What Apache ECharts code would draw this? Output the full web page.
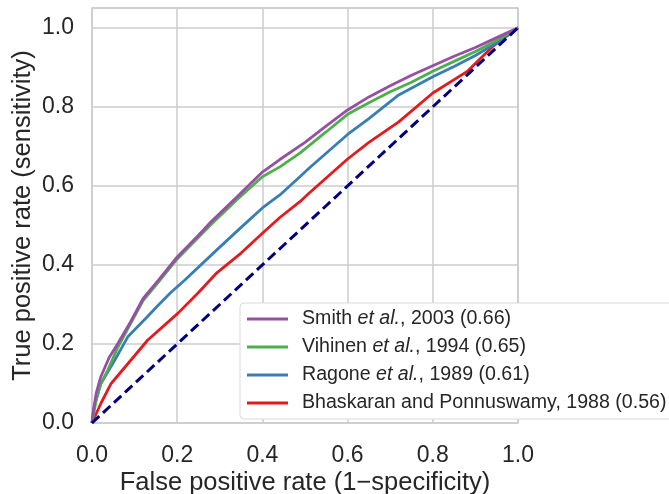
<!doctype html>
<html>
<head>
	<meta charset="utf-8">
	<title>ROC curves</title>
	<script src="https://cdn.jsdelivr.net/npm/echarts@6/dist/echarts.min.js"></script>
	<style>
		html, body {margin:0; padding:0; background:#fff;}
		#main {width:669px; height:494px;}
	</style>
</head>
<body>
	<div id="main"></div>
<script>
	"use strict";
	// ROC points (false positive rate, true positive rate)
	var smithX = [0, 0.003, 0.01, 0.02, 0.04, 0.06, 0.09, 0.12, 0.155, 0.2, 0.25, 0.28, 0.34, 0.4, 0.44, 0.5, 0.55, 0.6, 0.65, 0.7, 0.75, 0.8, 0.85, 0.9, 0.95, 1];
	var smithY = [0, 0.03, 0.076, 0.115, 0.165, 0.2, 0.255, 0.315, 0.36, 0.42, 0.475, 0.51, 0.572, 0.635, 0.666, 0.71, 0.752, 0.792, 0.825, 0.853, 0.88, 0.904, 0.928, 0.95, 0.975, 1];

	var vihinenX = [0, 0.005, 0.01, 0.02, 0.037, 0.06, 0.09, 0.12, 0.155, 0.2, 0.25, 0.28, 0.34, 0.4, 0.441, 0.488, 0.55, 0.6, 0.65, 0.7, 0.75, 0.8, 0.85, 0.9, 0.95, 1];
	var vihinenY = [0, 0.03, 0.06, 0.098, 0.134, 0.19, 0.25, 0.31, 0.355, 0.415, 0.47, 0.503, 0.565, 0.623, 0.648, 0.683, 0.737, 0.781, 0.81, 0.838, 0.862, 0.89, 0.915, 0.94, 0.968, 1];

	var ragoneX = [0, 0.005, 0.021, 0.054, 0.084, 0.131, 0.152, 0.185, 0.218, 0.293, 0.35, 0.4, 0.441, 0.488, 0.51, 0.6, 0.65, 0.72, 0.8, 0.85, 0.9, 0.95, 1];
	var ragoneY = [0, 0.04, 0.1, 0.16, 0.218, 0.27, 0.294, 0.33, 0.362, 0.438, 0.495, 0.544, 0.577, 0.623, 0.645, 0.73, 0.77, 0.83, 0.876, 0.902, 0.93, 0.962, 1];

	var bhaskaranX = [0, 0.021, 0.045, 0.092, 0.131, 0.202, 0.25, 0.293, 0.35, 0.4, 0.441, 0.488, 0.51, 0.6, 0.65, 0.72, 0.8, 0.88, 0.94, 1];
	var bhaskaranY = [0, 0.05, 0.1, 0.16, 0.21, 0.278, 0.33, 0.38, 0.43, 0.48, 0.52, 0.56, 0.582, 0.668, 0.71, 0.762, 0.835, 0.889, 0.952, 1];

	var chanceX = [0, 1];
	var chanceY = [0, 1];

	var seriesNames = ['Smith', 'Vihinen', 'Ragone', 'Bhaskaran'];
	var legendText = {
		Smith: '{n|Smith }{i|et al.}{n|, 2003 (0.66)}',
		Vihinen: '{n|Vihinen }{i|et al.}{n|, 1994 (0.65)}',
		Ragone: '{n|Ragone }{i|et al.}{n|, 1989 (0.61)}',
		Bhaskaran: '{n|Bhaskaran and Ponnuswamy, 1988 (0.56)}'
	};
	var colors = ['#984ea3', '#4daf4a', '#377eb8', '#e41a1c'];

	function pairs(xs, ys){
		var out = [];
		for(let i=0; i<xs.length; i++){
			out.push([xs[i], ys[i]]);
		}
		return out;
	}

	var font = 'Liberation Sans, Arial, sans-serif';
	var txt = '#262626';
	var gridColor = '#cccccc';

	var curveData = [pairs(smithX, smithY), pairs(vihinenX, vihinenY), pairs(ragoneX, ragoneY), pairs(bhaskaranX, bhaskaranY)];
	var series = [];
	for(let i=0; i<seriesNames.length; i++){
		series.push({
			name: seriesNames[i],
			type: 'line',
			data: curveData[i],
			symbol: 'none',
			z: 10 - i,
			lineStyle: {color: colors[i], width: 2.8},
			itemStyle: {color: colors[i]}
		});
	}
	series.push({
		name: 'chance',
		type: 'line',
		data: pairs(chanceX, chanceY),
		symbol: 'none',
		z: 12,
		lineStyle: {color: '#000080', width: 3, type: [10, 5]}
	});

	var myChart = echarts.init(document.getElementById("main"));
	myChart.setOption({
		animation: false,
		textStyle: {fontFamily: font},
		grid: {left: 92, right: 151, top: 8, bottom: 71, show: true, borderColor: gridColor, borderWidth: 1.5, backgroundColor: '#fff', outerBoundsMode: 'none', containLabel: false},
		xAxis: {
			type: 'value', min: 0, max: 1, interval: 0.2,
			name: 'False positive rate (1\u2212specificity)',
			nameLocation: 'middle', nameGap: 47, nameMoveOverlap: false,
			nameTextStyle: {fontSize: 25.5, color: txt, fontFamily: font},
			axisLine: {show: false},
			axisTick: {show: false},
			axisLabel: {fontSize: 23, color: txt, margin: 21, formatter: function(v){ return v.toFixed(1); }},
			splitLine: {lineStyle: {color: gridColor, width: 1.5}}
		},
		yAxis: {
			type: 'value', min: 0, max: 1.05, interval: 0.2,
			name: 'True positive rate (sensitivity)',
			nameLocation: 'middle', nameGap: 56, nameMoveOverlap: false,
			nameTextStyle: {fontSize: 25.5, color: txt, fontFamily: font},
			axisLine: {show: false},
			axisTick: {show: false},
			axisLabel: {fontSize: 23, color: txt, margin: 18, showMaxLabel: false, formatter: function(v){ return v.toFixed(1); }},
			splitLine: {lineStyle: {color: gridColor, width: 1.5}}
		},
		legend: {
			data: seriesNames,
			orient: 'vertical',
			left: 240, top: 303,
			backgroundColor: '#fff',
			borderColor: '#d9d9d9', borderWidth: 1, borderRadius: 4,
			padding: [6, 8, 6, 7],
			itemGap: 8,
			itemWidth: 41, itemHeight: 3,
			icon: 'rect',
			formatter: function(name){ return legendText[name]; },
			textStyle: {
				color: txt, fontSize: 19.6, padding: [0, 0, 0, 9],
				rich: {
					n: {fontSize: 19.6, color: txt, fontFamily: font, lineHeight: 20},
					i: {fontSize: 19.6, color: txt, fontFamily: font, fontStyle: 'italic', lineHeight: 20}
				}
			}
		},
		series: series
	});
</script>
</body>
</html>
